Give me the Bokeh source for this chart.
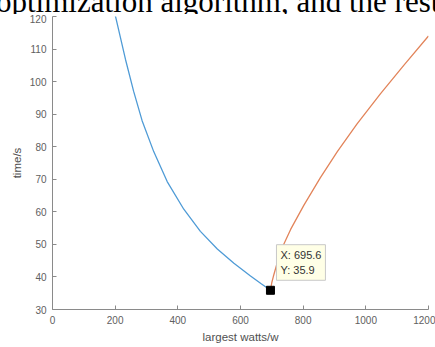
from bokeh.plotting import figure
from bokeh.models import Range1d, Label, FixedTicker, Div
from bokeh.layouts import column
from bokeh.embed import file_html
from bokeh.resources import INLINE

# ---- data ----
blue_x = [200, 233, 259, 286, 323, 366, 419, 472, 526, 579, 632, 665, 695.6]
blue_y = [120.5, 106.8, 97.0, 88.0, 78.5, 69.3, 60.8, 54.0, 48.6, 44.2, 40.3, 38.0, 35.9]

orange_x = [695.6, 700, 705, 715, 725, 737, 760, 802, 855, 909, 972, 1047, 1121, 1200]
orange_y = [35.9, 38.3, 40.2, 43.6, 46.6, 49.8, 54.6, 62.0, 70.5, 78.5, 87.0, 96.3, 105.0, 114.0]

tip_x = 695.6
tip_y = 35.9

x_ticks = [0, 200, 400, 600, 800, 1000, 1200]
y_ticks = [30, 40, 50, 60, 70, 80, 90, 100, 110, 120]

top_text = "optimization algorithm, and the results"

head = Div(text=('<div style="font-family: \'Liberation Serif\'; font-size: 31px; '
                 'line-height: 31px; margin-top: -18px; margin-left: -4px; '
                 'white-space: nowrap; color: black;">' + top_text + '</div>'),
           width=435, height=14, styles={"overflow": "hidden", "margin": "0px"})

p = figure(width=435, height=333, output_backend="svg", toolbar_location=None,
           x_range=Range1d(0, 1200), y_range=Range1d(30, 120),
           min_border_left=52, min_border_right=7, min_border_top=2, min_border_bottom=38)
p.styles = {"margin": "0px"}
p.outline_line_color = None
p.grid.visible = False
p.background_fill_color = "white"
p.border_fill_color = "white"

p.line(blue_x, blue_y, line_color="#4f9bd6", line_width=1.3)
p.line(orange_x, orange_y, line_color="#e2845a", line_width=1.3)
p.scatter([tip_x], [tip_y], marker="square", size=8, fill_color="black", line_color="black")

for ax, ticks in ((p.xaxis[0], x_ticks), (p.yaxis[0], y_ticks)):
    ax.ticker = FixedTicker(ticks=ticks)
    ax.axis_line_color = "#8a8a8a"
    ax.major_tick_line_color = "#8a8a8a"
    ax.major_tick_in = 4
    ax.major_tick_out = 0
    ax.minor_tick_line_color = None
    ax.major_label_text_font = "Liberation Sans"
    ax.major_label_text_font_size = "10px"
    ax.major_label_text_color = "#606060"
    ax.major_label_standoff = 6
    ax.axis_label_text_font = "Liberation Sans"
    ax.axis_label_text_font_size = "11.5px"
    ax.axis_label_text_font_style = "normal"
    ax.axis_label_text_color = "#505050"
    ax.axis_label_standoff = 4

p.xaxis[0].axis_label = "largest watts/w"
p.yaxis[0].axis_label = "time/s"

tip = Label(x=tip_x, y=tip_y, x_offset=6, y_offset=10,
            text=f"X: {tip_x}\nY: {tip_y}",
            text_font="Liberation Sans", text_font_size="11px", text_color="#333333",
            text_align="left", text_baseline="bottom", text_line_height=1.3,
            background_fill_color="#FFFFE6", border_line_color="#c8c8c8",
            padding=4)
p.add_layout(tip)

layout = column(head, p, spacing=0, styles={"margin": "0px"})

open("out.html", "w").write(file_html(layout, INLINE))
